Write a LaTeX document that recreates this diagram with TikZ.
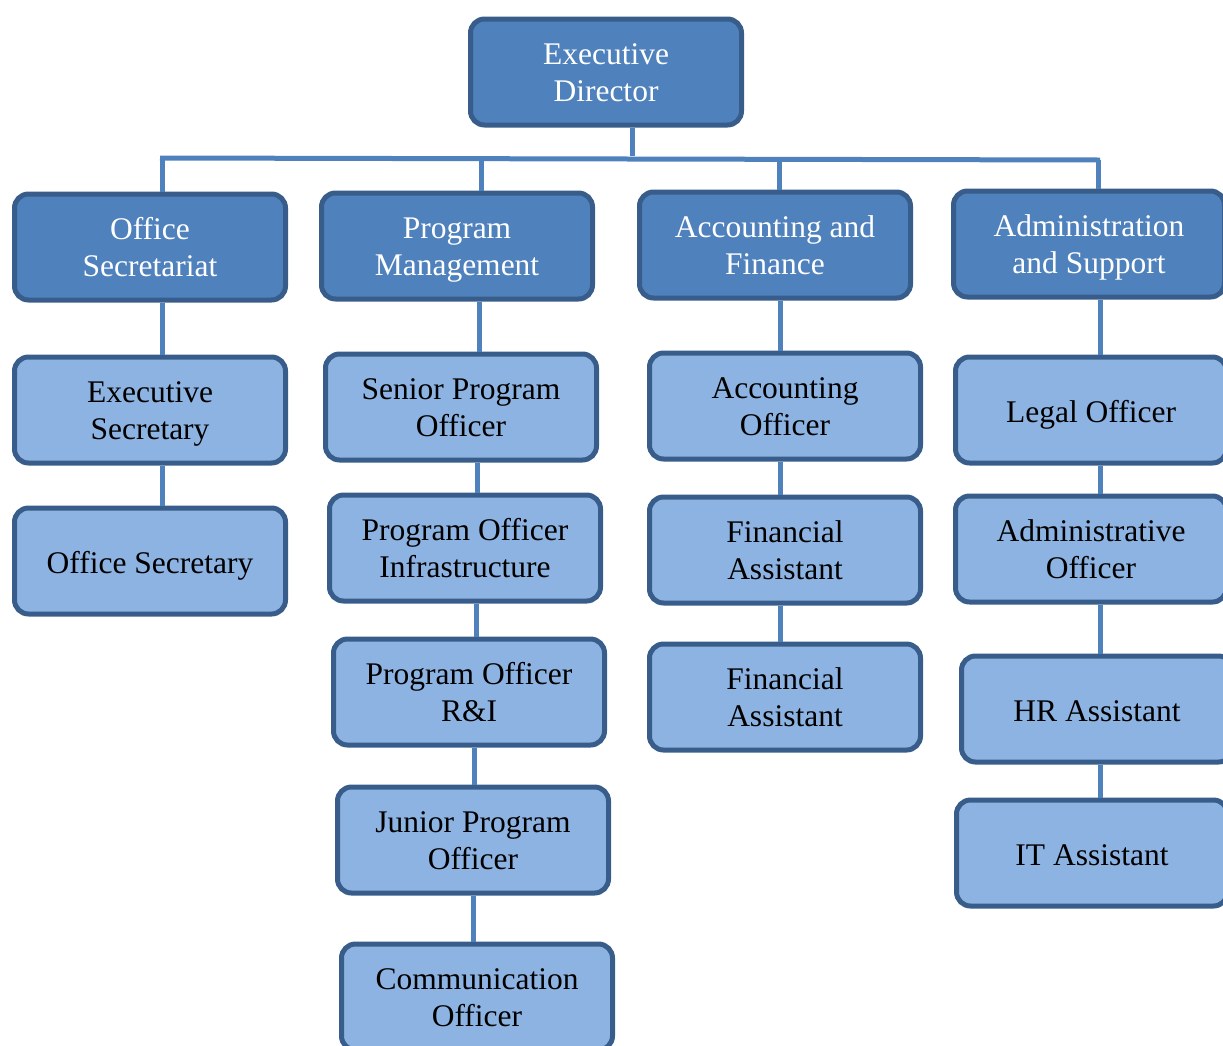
\documentclass[tikz,border=0pt]{standalone}
\usepackage{fontspec}
\setmainfont{Liberation Serif}
\usepackage{tikz}
\usetikzlibrary{positioning}
\usepackage{xcolor}
\definecolor{headfill}{HTML}{4F81BD}
\definecolor{boxline}{HTML}{385D8A}
\definecolor{staffill}{HTML}{8DB3E2}
\definecolor{linkblue}{HTML}{4F81BD}

\begin{document}
\begin{tikzpicture}[
    x=1pt, y=-1pt,
    box/.style={rectangle, rounded corners=14pt, draw=boxline, line width=5pt,
    minimum width=271pt, minimum height=106pt, align=center, inner sep=2pt,
    font=\fontsize{31.5}{37}\selectfont, text height=65pt, text depth=7pt},
    single/.style={text height=31pt},
    head/.style={box, fill=headfill, text=white},
    staff/.style={box, fill=staffill, text=black},
    conn/.style={draw=linkblue, line width=5pt}
    ]
\clip (0,0) rectangle (1223,1045);
\useasboundingbox (0,0) rectangle (1223,1045);

% top
\node[head] (ed) at (606,72) {Executive\\Director};

% departments
\node[head] (os) at (150,247) {Office\\Secretariat};
\node[head] (pm) at (457,246) {Program\\Management};
\node[head] (af) at (775,245) {Accounting and\\Finance};
\node[head] (as) at (1089,244) {Administration\\and Support};

% office secretariat
\node[staff] (exsec) at (150,410) {Executive\\Secretary};
\node[staff, single] (offsec) at (150,561) {Office Secretary};

% program management
\node[staff] (spo) at (461,407) {Senior Program\\Officer};
\node[staff] (poi) at (465,548) {Program Officer\\Infrastructure};
\node[staff] (pori) at (469,692) {Program Officer\\R\&I};
\node[staff] (jpo) at (473,840) {Junior Program\\Officer};
\node[staff] (co) at (477,997) {Communication\\Officer};

% accounting and finance
\node[staff] (ao) at (785,406) {Accounting\\Officer};
\node[staff] (fa) at (785,550) {Financial\\Assistant};
\node[staff] (fb) at (785,697) {Financial\\Assistant};

% administration and support
\node[staff, single] (lo) at (1091,410) {Legal Officer};
\node[staff] (adm) at (1091,549) {Administrative\\Officer};
\node[staff, single] (hr) at (1097,709) {HR Assistant};
\node[staff, single] (it) at (1092,853) {IT Assistant};

% bus
\coordinate (busl) at (160,158);
\coordinate (busr) at (1100,160);
\draw[conn] (ed.south -| 632,0) -- (632,156);
\draw[conn] (busl) -- (busr);
\draw[conn] (os.north -| 162,0) -- (162,158);
\draw[conn] (pm.north -| 481,0) -- (481,158);
\draw[conn] (af.north -| 779,0) -- (779,159);
\draw[conn] (as.north -| 1098,0) -- (1098,160);

% columns
\draw[conn] (os.south -| 162,0) -- (exsec.north -| 162,0);
\draw[conn] (exsec.south -| 162,0) -- (offsec.north -| 162,0);

\draw[conn] (pm.south -| 479,0) -- (spo.north -| 479,0);
\draw[conn] (spo.south -| 477,0) -- (poi.north -| 477,0);
\draw[conn] (poi.south -| 476,0) -- (pori.north -| 476,0);
\draw[conn] (pori.south -| 474,0) -- (jpo.north -| 474,0);
\draw[conn] (jpo.south -| 473,0) -- (co.north -| 473,0);

\draw[conn] (af.south -| 780,0) -- (ao.north -| 780,0);
\draw[conn] (ao.south -| 780,0) -- (fa.north -| 780,0);
\draw[conn] (fa.south -| 780,0) -- (fb.north -| 780,0);

\draw[conn] (as.south -| 1100,0) -- (lo.north -| 1100,0);
\draw[conn] (lo.south -| 1100,0) -- (adm.north -| 1100,0);
\draw[conn] (adm.south -| 1100,0) -- (hr.north -| 1100,0);
\draw[conn] (hr.south -| 1100,0) -- (it.north -| 1100,0);
\end{tikzpicture}
\end{document}
